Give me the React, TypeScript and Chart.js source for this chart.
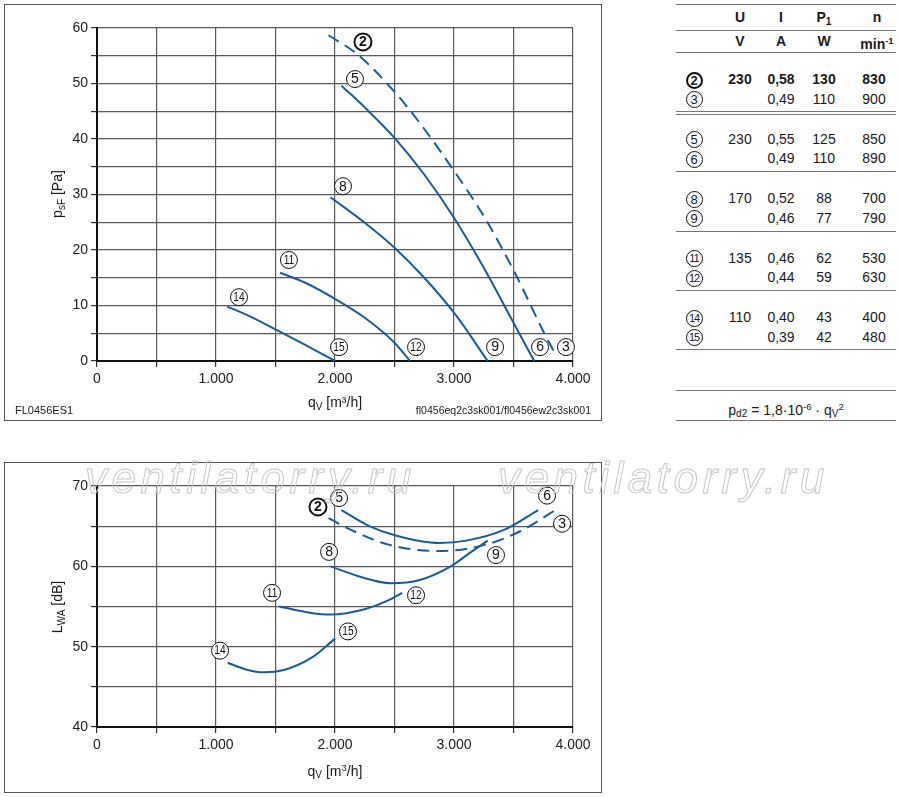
import React, { useEffect, useRef } from 'react';
import { Chart, registerables } from 'chart.js';

Chart.register(...registerables);

const FONT = '"Liberation Sans", Arial, Helvetica, sans-serif';
const BLUE = '#1b5b98';

// ---------- pressure chart (psF vs qV) ----------
const pQv2 = [1946, 2191, 2484, 2712, 2973, 3267, 3511, 3756, 3860];
const pPs2 = [58.7, 55.2, 48.9, 42.9, 35.1, 25.5, 15.9, 5.1, 0.9];
const pQv5 = [2054, 2250, 2500, 2750, 3000, 3250, 3500, 3674];
const pPs5 = [49.6, 45.7, 40.2, 33.6, 25.8, 16.8, 6.9, 0];
const pQv8 = [1962, 2250, 2500, 2750, 3000, 3283];
const pPs8 = [29.5, 24.9, 20.4, 15.0, 8.7, 0];
const pQv11 = [1539, 1750, 2000, 2250, 2500, 2630];
const pPs11 = [15.9, 14.1, 11.2, 7.8, 3.3, 0];
const pQv14 = [1092, 1250, 1500, 1750, 2001];
const pPs14 = [9.8, 8.4, 5.7, 2.9, 0];

const pLabelText = ['2', '5', '8', '11', '14', '15', '12', '9', '6', '3'];
const pLabelQv = [2235, 2168, 2067, 1613, 1193, 2034, 2681, 3345, 3723, 3941];
const pLabelPs = [57.5, 50.8, 31.5, 18.2, 11.5, 2.5, 2.5, 2.5, 2.5, 2.5];

// ---------- noise chart (LWA vs qV) ----------
const nQv2 = [1946, 2125, 2451, 2870, 3267, 3560, 3853];
const nL2 = [66.0, 64.6, 62.7, 61.9, 62.7, 64.4, 67.0];
const nQv5 = [2054, 2288, 2517, 2875, 3103, 3430, 3707];
const nL5 = [67.0, 65.0, 63.8, 62.9, 63.2, 64.6, 67.0];
const nQv8 = [1962, 2190, 2470, 2712, 2973, 3136, 3283];
const nL8 = [60.0, 58.8, 57.9, 58.3, 60.0, 61.7, 63.2];
const nQv11 = [1532, 1800, 1960, 2256, 2451, 2565];
const nL11 = [55.0, 54.2, 54.0, 54.7, 55.8, 56.7];
const nQv14 = [1098, 1245, 1408, 1571, 1800, 2001];
const nL14 = [48.0, 47.2, 46.8, 47.1, 48.6, 51.0];

const nLabelText = ['2', '5', '6', '3', '8', '9', '11', '12', '15', '14'];
const nLabelQv = [1857, 2034, 3782, 3908, 1950, 3353, 1471, 2681, 2109, 1034];
const nLabelL = [67.4, 68.5, 68.8, 65.3, 61.8, 61.4, 56.7, 56.4, 51.9, 49.5];

const boldLabels = ['2'];

// ---------- table ----------
const tblCircle = ['2', '3', '5', '6', '8', '9', '11', '12', '14', '15'];
const tblU = ['230', '', '230', '', '170', '', '135', '', '110', ''];
const tblI = ['0,58', '0,49', '0,55', '0,49', '0,52', '0,46', '0,46', '0,44', '0,40', '0,39'];
const tblP = ['130', '110', '125', '110', '88', '77', '62', '59', '43', '42'];
const tblN = ['830', '900', '850', '890', '700', '790', '530', '630', '400', '480'];

const zip = (xs: number[], ys: number[]) => xs.map((x, i) => ({ x, y: ys[i] }));

const fmtThousands = (v: number) => (v === 0 ? '0' : `${Math.round(v / 1000)}.000`);

function makeLabelPlugin(text: string[], xs: number[], ys: number[]) {
  return {
    id: 'circleLabels',
    afterDatasetsDraw(chart: any) {
      const { ctx, scales } = chart;
      ctx.save();
      text.forEach((t, i) => {
        const px = scales.x.getPixelForValue(xs[i]);
        const py = scales.y.getPixelForValue(ys[i]);
        const bold = boldLabels.includes(t);
        ctx.beginPath();
        ctx.arc(px, py, 8.5, 0, Math.PI * 2);
        ctx.fillStyle = '#fff';
        ctx.fill();
        ctx.lineWidth = bold ? 2 : 1;
        ctx.strokeStyle = '#111';
        ctx.stroke();
        ctx.fillStyle = '#111';
        ctx.font = `${bold ? 'bold ' : ''}${t.length > 1 ? 12 : 14}px ${FONT}`;
        ctx.textAlign = 'center';
        ctx.textBaseline = 'middle';
        if (t.length > 1) {
          ctx.save();
          ctx.translate(px, py + 0.5);
          ctx.scale(0.85, 1);
          ctx.fillText(t, 0, 0);
          ctx.restore();
        } else {
          ctx.fillText(t, px, py + 0.5);
        }
      });
      ctx.restore();
    },
  };
}

type Series = { xs: number[]; ys: number[]; dashed?: boolean };

function PerfChart(props: {
  series: Series[];
  labelText: string[];
  labelX: number[];
  labelY: number[];
  yMin: number;
  yMax: number;
  width: number;
  height: number;
  xAxisHeight: number;
}) {
  const ref = useRef<HTMLCanvasElement | null>(null);
  useEffect(() => {
    if (!ref.current) return;
    const chart = new Chart(ref.current, {
      type: 'line',
      data: {
        datasets: props.series.map((s) => ({
          data: zip(s.xs, s.ys),
          borderColor: BLUE,
          borderWidth: 2,
          borderDash: s.dashed ? [12, 7] : [],
          pointRadius: 0,
          cubicInterpolationMode: 'monotone',
          fill: false,
        })),
      },
      options: {
        animation: false,
        responsive: false,
        maintainAspectRatio: false,
        layout: { padding: { left: 0, right: 29, top: 24, bottom: 0 } },
        plugins: { legend: { display: false }, tooltip: { enabled: false } },
        scales: {
          x: {
            type: 'linear',
            min: 0,
            max: 4000,
            ticks: {
              stepSize: 500,
              autoSkip: false,
              maxRotation: 0,
              padding: 4,
              color: '#222',
              font: { family: FONT, size: 14 },
              callback: (v: any) => (Number(v) % 1000 === 0 ? fmtThousands(Number(v)) : ''),
            },
            grid: { color: '#5a5a5a', lineWidth: 1.2, tickLength: 6, tickColor: '#333' },
            border: { color: '#111', width: 2 },
            afterFit: (s: any) => {
              s.height = props.xAxisHeight;
            },
          },
          y: {
            type: 'linear',
            min: props.yMin,
            max: props.yMax,
            ticks: {
              stepSize: 5,
              autoSkip: false,
              padding: 3,
              color: '#222',
              font: { family: FONT, size: 14 },
              callback: (v: any) => (Number(v) % 10 === 0 ? String(v) : ''),
            },
            grid: { color: '#5a5a5a', lineWidth: 1.2, tickLength: 6, tickColor: '#333' },
            border: { color: '#111', width: 2 },
            afterFit: (s: any) => {
              s.width = 93;
            },
          },
        },
      } as any,
      plugins: [makeLabelPlugin(props.labelText, props.labelX, props.labelY)],
    });
    return () => chart.destroy();
  }, []);
  return (
    <canvas
      ref={ref}
      width={props.width}
      height={props.height}
      style={{ width: props.width, height: props.height, display: 'block' }}
    />
  );
}

const abs = (l: number, t: number, extra: React.CSSProperties = {}): React.CSSProperties => ({
  position: 'absolute',
  left: l,
  top: t,
  ...extra,
});

const sub: React.CSSProperties = { fontSize: '0.72em', verticalAlign: '-0.25em' };
const sup: React.CSSProperties = { fontSize: '0.68em', verticalAlign: '0.5em' };

function Circled({ t }: { t: string }) {
  const bold = boldLabels.includes(t);
  return (
    <span
      style={{
        display: 'inline-block',
        width: 17,
        height: 17,
        boxSizing: 'border-box',
        border: `${bold ? 2 : 1}px solid #111`,
        borderRadius: '50%',
        fontSize: t.length > 1 ? 11 : 13,
        lineHeight: bold ? '13px' : '15px',
        textAlign: 'center',
        fontWeight: bold ? 'bold' : 'normal',
        letterSpacing: t.length > 1 ? -1 : 0,
        verticalAlign: 'middle',
      }}
    >
      {t}
    </span>
  );
}

function Table() {
  const colCx = [694, 740, 781, 824, 874];
  const cell = (cx: number, y: number, content: React.ReactNode, bold = false, w = 60) => (
    <div
      style={abs(cx - w / 2, y - 9, {
        width: w,
        height: 18,
        lineHeight: '18px',
        textAlign: 'center',
        fontWeight: bold ? 'bold' : 'normal',
      })}
    >
      {content}
    </div>
  );
  const hline = (y: number, key: string) => (
    <div key={key} style={abs(676, y, { width: 220, height: 1, background: '#777' })} />
  );
  const rows: React.ReactNode[] = [];
  tblCircle.forEach((c, r) => {
    const y = 79 + Math.floor(r / 2) * 59.5 + (r % 2) * 19.5;
    const bold = r === 0;
    rows.push(
      <React.Fragment key={'r' + r}>
        {cell(colCx[0], y, <Circled t={c} />)}
        {cell(colCx[1], y, tblU[r], bold)}
        {cell(colCx[2], y, tblI[r], bold)}
        {cell(colCx[3], y, tblP[r], bold)}
        {cell(colCx[4], y, tblN[r], bold)}
      </React.Fragment>
    );
  });
  return (
    <>
      {hline(4, 'l0')}
      {cell(740, 17, 'U', true)}
      {cell(781, 17, 'I', true)}
      {cell(824, 17, <>P<span style={sub}>1</span></>, true)}
      {cell(877, 17, 'n', true)}
      {hline(30, 'l1')}
      {cell(740, 41, 'V', true)}
      {cell(781, 41, 'A', true)}
      {cell(824, 41, 'W', true)}
      {cell(877, 41, <>min<span style={sup}>-1</span></>, true)}
      {hline(52, 'l2')}
      {rows}
      {hline(111, 'l3a')}
      {hline(114, 'l3b')}
      {hline(171, 'l4')}
      {hline(231, 'l5')}
      {hline(290, 'l6')}
      {hline(349, 'l7')}
      {hline(390, 'l8')}
      {cell(786, 407, <>p<span style={sub}>d2</span> = 1,8·10<span style={sup}>-6</span> · q<span style={sub}>V</span><span style={sup}>2</span></>, false, 200)}
      {hline(420, 'l9')}
    </>
  );
}

export default function App() {
  const frame: React.CSSProperties = { boxSizing: 'border-box', border: '1px solid #555' };
  const watermark: React.CSSProperties = {
    fontSize: 44,
    fontStyle: 'italic',
    letterSpacing: 4.5,
    lineHeight: 1,
    color: 'transparent',
    WebkitTextStroke: '1px #c8c8c8',
    whiteSpace: 'nowrap',
    pointerEvents: 'none',
  } as any;
  return (
    <div
      style={{
        position: 'absolute',
        left: 0,
        top: 0,
        width: 900,
        height: 797,
        background: '#fff',
        fontFamily: FONT,
        fontSize: 14,
        color: '#1a1a1a',
        overflow: 'hidden',
      }}
    >
      {/* pressure chart */}
      <div style={abs(4, 4, { ...frame, width: 598, height: 417 })} />
      <div style={abs(4, 4)}>
        <PerfChart
          series={[
            { xs: pQv2, ys: pPs2, dashed: true },
            { xs: pQv5, ys: pPs5 },
            { xs: pQv8, ys: pPs8 },
            { xs: pQv11, ys: pPs11 },
            { xs: pQv14, ys: pPs14 },
          ]}
          labelText={pLabelText}
          labelX={pLabelQv}
          labelY={pLabelPs}
          yMin={0}
          yMax={60}
          width={598}
          height={416}
          xAxisHeight={59}
        />
      </div>
      <div style={abs(235, 393, { width: 200, textAlign: 'center', lineHeight: '18px' })}>
        q<span style={sub}>V</span> [m³/h]
      </div>
      <div
        style={abs(57 - 60, 194 - 9, {
          width: 120,
          height: 18,
          lineHeight: '18px',
          textAlign: 'center',
          transform: 'rotate(-90deg)',
        })}
      >
        p<span style={sub}>sF</span> [Pa]
      </div>
      <div style={abs(15, 403, { fontSize: 11, lineHeight: '14px' })}>FL0456ES1</div>
      <div style={abs(300, 403, { width: 291, textAlign: 'right', fontSize: 10.5, lineHeight: '14px' })}>
        fl0456eq2c3sk001/fl0456ew2c3sk001
      </div>

      {/* table */}
      <Table />

      {/* noise chart */}
      <div style={abs(4, 462, { ...frame, width: 598, height: 331 })} />
      <div style={abs(4, 462)}>
        <PerfChart
          series={[
            { xs: nQv2, ys: nL2, dashed: true },
            { xs: nQv5, ys: nL5 },
            { xs: nQv8, ys: nL8 },
            { xs: nQv11, ys: nL11 },
            { xs: nQv14, ys: nL14 },
          ]}
          labelText={nLabelText}
          labelX={nLabelQv}
          labelY={nLabelL}
          yMin={40}
          yMax={70}
          width={598}
          height={330}
          xAxisHeight={65}
        />
      </div>
      <div style={abs(235, 759, { width: 200, textAlign: 'center', lineHeight: '18px' })}>
        q<span style={sub}>V</span> [m<span style={sup}>3</span>/h]
      </div>
      <div
        style={abs(57 - 60, 607 - 9, {
          width: 120,
          height: 18,
          lineHeight: '18px',
          textAlign: 'center',
          transform: 'rotate(-90deg)',
        })}
      >
        L<span style={sub}>WA</span> [dB]
      </div>

      {/* watermark */}
      <div style={abs(85, 456, watermark)}>ventilatorry.ru</div>
      <div style={abs(498, 456, watermark)}>ventilatorry.ru</div>
    </div>
  );
}
